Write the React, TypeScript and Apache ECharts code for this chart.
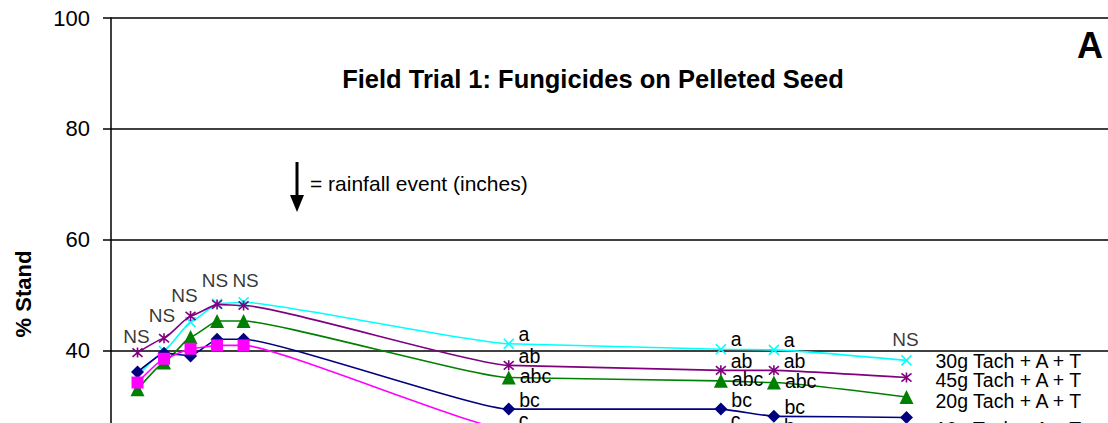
import React, { useEffect, useRef } from 'react';
import * as echarts from 'echarts';

// Days of the stand counts (x positions, value axis)
const days = [8, 9, 10, 11, 12, 22, 30, 32, 37];

const seriesNames = [
  '30g Tach + A + T',
  '45g Tach + A + T',
  '20g Tach + A + T',
  '10g Tach + A + T',
  '0g Tach + A + T',
];

// % Stand values
const stand30 = [35.4, 39.9, 45.1, 48.4, 48.7, 41.2, 40.2, 40.1, 38.2];
const stand45 = [39.6, 42.2, 46.2, 48.3, 48.1, 37.3, 36.4, 36.4, 35.1];
const stand20 = [33.0, 37.8, 42.4, 45.3, 45.3, 35.1, 34.5, 34.2, 31.6];
const stand10 = [36.1, 39.5, 39.0, 42.0, 42.0, 29.4, 29.4, 28.1, 27.9];
const stand0 = [34.2, 38.5, 40.3, 40.9, 40.9, 25.7, 25.6, 24.5, 23.5];

// Mean separation letters
const letters30 = ['', '', '', '', '', 'a', 'a', 'a', ''];
const letters45 = ['', '', '', '', '', 'ab', 'ab', 'ab', ''];
const letters20 = ['', '', '', '', '', 'abc', 'abc', 'abc', ''];
const letters10 = ['', '', '', '', '', 'bc', 'bc', 'bc', ''];
const letters0 = ['', '', '', '', '', 'c', 'c', 'b', ''];

// Non-significant markers above the highest point of each date
const nsLabels = ['NS', 'NS', 'NS', 'NS', 'NS', '', '', '', 'NS'];

const yTicks = [0, 20, 40, 60, 80, 100];

// ---- styling / layout (not data) ----
const colors = ['#00FFFF', '#800080', '#008000', '#000080', '#FF00FF'];
const symbols = [
  'path://M0,0L10,10M10,0L0,10',
  'path://M0,0L10,10M10,0L0,10M5,-1L5,11',
  'triangle',
  'diamond',
  'rect',
];
const symbolSizes = [10, 10, 14, 13, 12];
const letterDy = [-10, -9.5, -2, -9.5, -10];
const endLabelDy = [1, 2, 4, 12, 12];
const nsOffsets: (number[] | null)[] = [
  [-1, -16], [-2, -23], [-6, -21], [-2, -23], [2, -22], null, null, null, [-1, -21],
];
const FONT = '"Liberation Sans", Arial, sans-serif';

export default function App() {
  const ref = useRef<HTMLDivElement>(null);

  useEffect(() => {
    if (!ref.current) return;
    const chart = echarts.init(ref.current, undefined, { renderer: 'svg' });

    const allVals = [stand30, stand45, stand20, stand10, stand0];
    const allLetters = [letters30, letters45, letters20, letters10, letters0];

    const lineSeries = allVals.map((vals, s) => ({
      type: 'line',
      name: seriesNames[s],
      smooth: 0.12,
      smoothMonotone: 'x',
      symbol: symbols[s],
      symbolSize: symbolSizes[s],
      showAllSymbol: true,
      lineStyle: { color: colors[s], width: 1.6 },
      itemStyle: {
        color: colors[s],
        borderColor: colors[s],
        borderWidth: s < 2 ? 1.6 : 0,
      },
      endLabel: {
        show: true,
        formatter: seriesNames[s],
        distance: 29,
        offset: [0, endLabelDy[s]],
        fontSize: 19.5,
        fontFamily: FONT,
        color: '#000',
      },
      data: days.map((d, i) => {
        const t = allLetters[s][i];
        return {
          value: [d, vals[i]],
          label: t
            ? {
                show: true,
                formatter: t,
                position: 'right',
                distance: 4,
                offset: [0, letterDy[s]],
                fontSize: 19.5,
                fontFamily: FONT,
                color: '#000',
              }
            : { show: false },
        };
      }),
      z: 3 + s,
    }));

    const nsData = days
      .map((d, i) => {
        if (!nsLabels[i]) return null;
        const top = Math.max(...allVals.map((v) => v[i]));
        return {
          value: [d, top],
          label: {
            show: true,
            formatter: nsLabels[i],
            position: 'inside',
            offset: nsOffsets[i] || [0, -20],
            fontSize: 19,
            fontFamily: FONT,
            color: '#000',
          },
        };
      })
      .filter(Boolean);

    chart.setOption({
      animation: false,
      backgroundColor: '#fff',
      grid: { left: 111, top: 18, width: 997, height: 554, containLabel: false },
      xAxis: {
        type: 'value',
        min: 7,
        max: 44.6,
        axisLine: { show: false },
        axisTick: { show: false },
        axisLabel: { show: false },
        splitLine: { show: false },
      },
      yAxis: {
        type: 'value',
        min: yTicks[0],
        max: yTicks[yTicks.length - 1],
        interval: 20,
        axisLine: { show: true, lineStyle: { color: '#000', width: 1.5 } },
        axisTick: { show: true, length: 8, lineStyle: { color: '#000', width: 1.5 } },
        axisLabel: { fontSize: 22, color: '#000', margin: 21, fontFamily: FONT },
        splitLine: { show: true, lineStyle: { color: '#000', width: 1.5 } },
      },
      series: [
        ...lineSeries,
        {
          type: 'scatter',
          symbolSize: 0,
          silent: true,
          data: nsData,
          z: 10,
        },
      ],
      graphic: [
        {
          type: 'text',
          x: 593,
          y: 79,
          style: {
            text: 'Field Trial 1: Fungicides on Pelleted Seed',
            font: `bold 25.5px ${FONT}`,
            fill: '#000',
            textAlign: 'center',
            textVerticalAlign: 'middle',
          },
        },
        {
          type: 'text',
          x: 1090,
          y: 45,
          style: {
            text: 'A',
            font: `bold 36px ${FONT}`,
            fill: '#000',
            textAlign: 'center',
            textVerticalAlign: 'middle',
          },
        },
        {
          type: 'text',
          x: 23,
          y: 294,
          rotation: Math.PI / 2,
          style: {
            text: '% Stand',
            font: `bold 22px ${FONT}`,
            fill: '#000',
            textAlign: 'center',
            textVerticalAlign: 'middle',
          },
        },
        {
          type: 'line',
          shape: { x1: 297, y1: 162, x2: 297, y2: 198 },
          style: { stroke: '#000', lineWidth: 3 },
        },
        {
          type: 'polygon',
          shape: { points: [[290, 195], [304, 195], [297, 212]] },
          style: { fill: '#000' },
        },
        {
          type: 'text',
          x: 310,
          y: 183,
          style: {
            text: '= rainfall event (inches)',
            font: `21px ${FONT}`,
            fill: '#000',
            textAlign: 'left',
            textVerticalAlign: 'middle',
          },
        },
      ],
    });

    return () => chart.dispose();
  }, []);

  return (
    <div
      style={{
        position: 'fixed',
        left: 0,
        top: 0,
        width: 1108,
        height: 423,
        overflow: 'hidden',
        background: '#fff',
      }}
    >
      <div ref={ref} style={{ width: 1108, height: 620 }} />
    </div>
  );
}
